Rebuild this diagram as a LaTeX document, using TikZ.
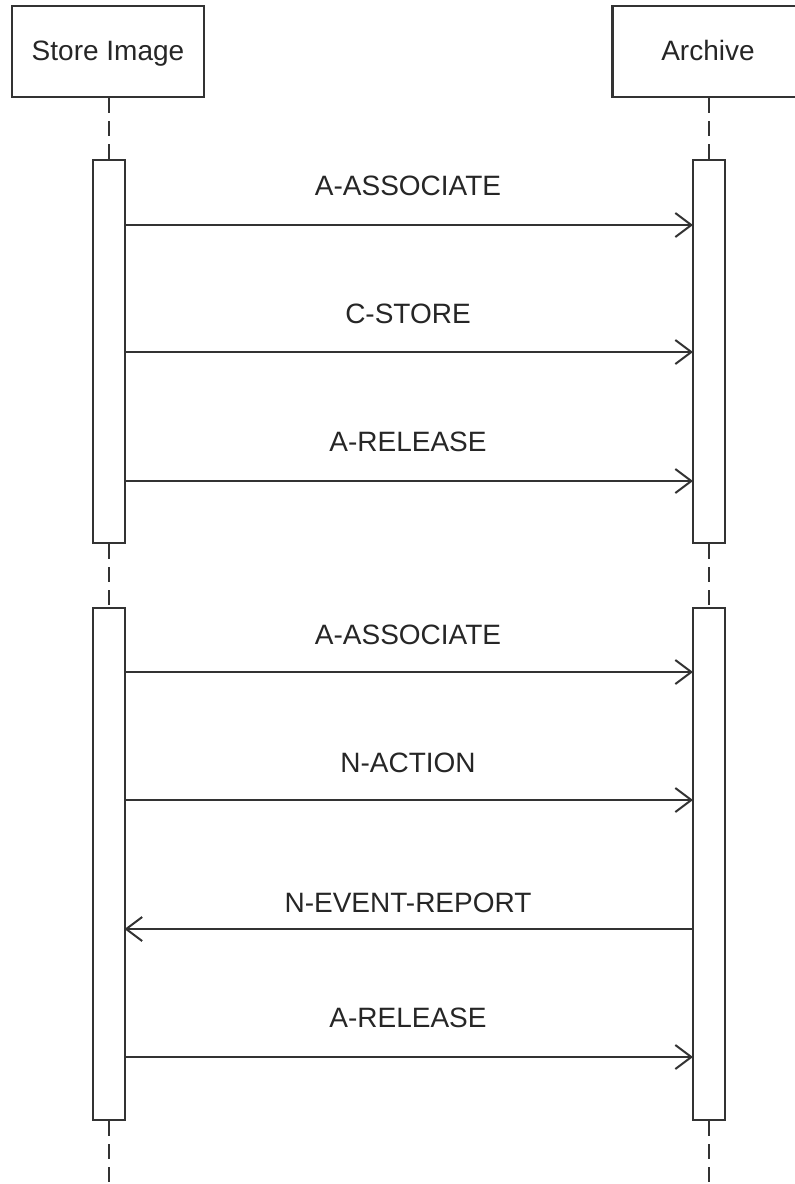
\documentclass[tikz,border=0pt]{standalone}
\usepackage{fontspec}
\setmainfont{Liberation Sans}
\usetikzlibrary{arrows.meta}
\definecolor{ln}{HTML}{333333}
\definecolor{tx}{HTML}{262626}
\begin{document}
\begin{tikzpicture}[x=1pt,y=-1pt,
  every node/.style={font=\fontsize{28}{32}\selectfont, text=tx},
  obj/.style={draw=ln, line width=2.4pt, minimum width=192pt, minimum height=91pt, inner sep=0pt},
  act/.style={draw=ln, line width=2pt, fill=white, minimum width=32pt, inner sep=0pt},
  life/.style={draw=ln, line width=2pt, dash pattern=on 15pt off 8pt},
  msg/.style={draw=ln, line width=2pt, -{Straight Barb[length=16pt,width=24pt]}},
  lbl/.style={anchor=base, inner sep=0pt}]
\useasboundingbox (0,0) rectangle (795,1184);
\clip (0,0) rectangle (795,1184);
% objects
\node[obj] (si) at (108,51.5) {};
\node[anchor=base, inner sep=0pt] (sit) at (108,60) {Store Image};
\node[obj] (ar) at (708.5,51.5) {};
\node[anchor=base, inner sep=0pt] (art) at (708,60) {Archive};
% lifeline end points
\coordinate (send) at (108.5,1184);
\coordinate (rend) at (709,1184);
% activations
\node[act, minimum height=383pt] (sa1) at (108.5,351.5) {};
\node[act, minimum height=512pt] (sa2) at (108.5,864) {};
\node[act, minimum height=383pt] (ra1) at (709,351.5) {};
\node[act, minimum height=512pt] (ra2) at (709,864) {};
% lifelines
\draw[life] (si.south -| sa1.north) -- (sa1.north);
\draw[life] (sa1.south) -- (sa2.north);
\draw[life] (sa2.south) -- (send);
\draw[life] (ar.south -| ra1.north) -- (ra1.north);
\draw[life] (ra1.south) -- (ra2.north);
\draw[life] (ra2.south) -- (rend);
% message end points
\foreach \n/\y in {1/225, 2/352, 3/481, 4/672, 5/800, 6/929, 7/1057} {
  \coordinate (l\n) at (124.5,\y);
  \coordinate (r\n) at (693,\y);
}
\draw[msg] (l1) -- (r1);
\draw[msg] (l2) -- (r2);
\draw[msg] (l3) -- (r3);
\draw[msg] (l4) -- (r4);
\draw[msg] (l5) -- (r5);
\draw[msg] (r6) -- (l6);
\draw[msg] (l7) -- (r7);
% labels
\node[lbl] (m1) at (408,195) {A-ASSOCIATE};
\node[lbl] (m2) at (408,323) {C-STORE};
\node[lbl] (m3) at (408,451) {A-RELEASE};
\node[lbl] (m4) at (408,644) {A-ASSOCIATE};
\node[lbl] (m5) at (408,772) {N-ACTION};
\node[lbl] (m6) at (408,912) {N-EVENT-REPORT};
\node[lbl] (m7) at (408,1027) {A-RELEASE};
\end{tikzpicture}
\end{document}
